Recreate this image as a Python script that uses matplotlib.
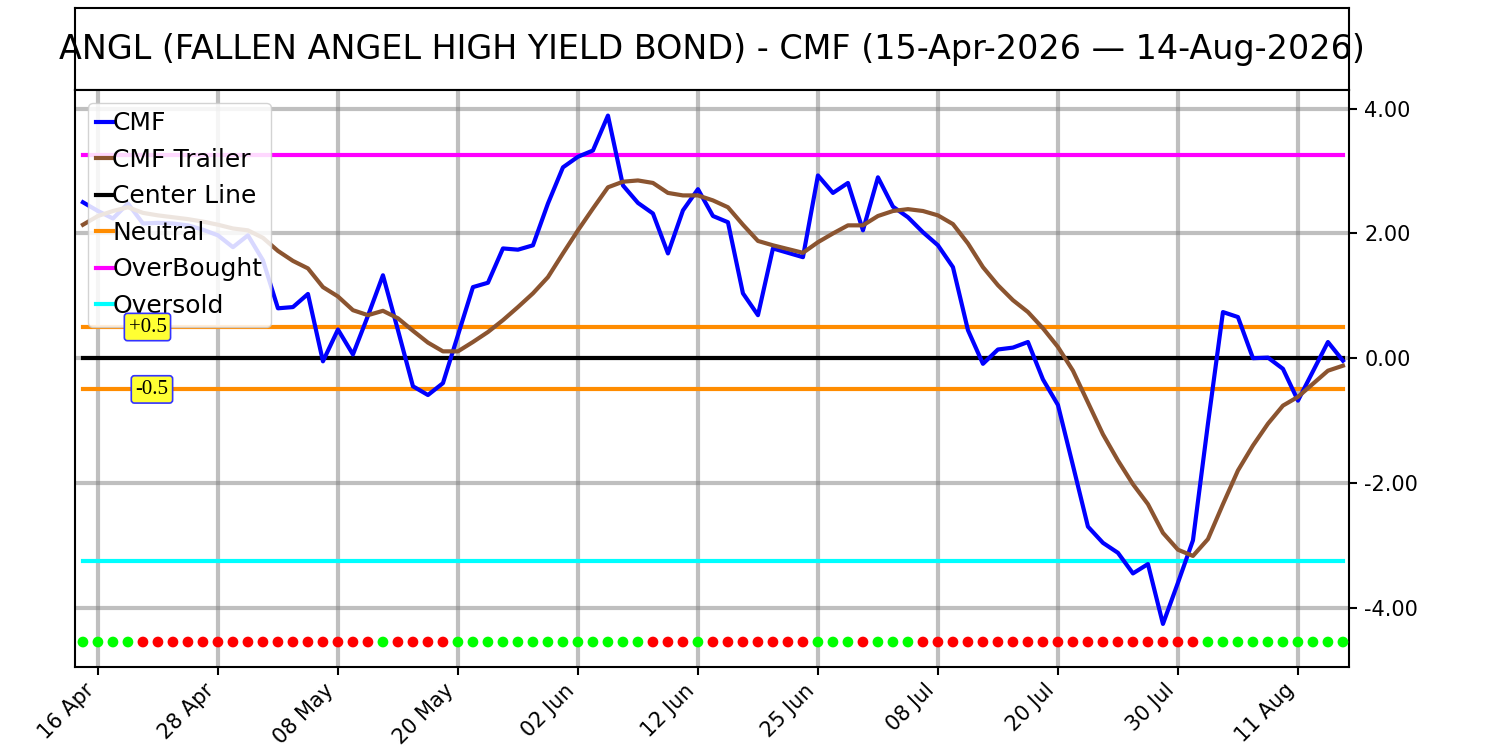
import matplotlib
matplotlib.use('Agg')
from matplotlib import pyplot as plt
import numpy as np

# CMF values per trading day, 15 Apr 2026 .. 14 Aug 2026
cmf = [2.50, 2.36, 2.24, 2.48, 2.16, 2.17, 2.16, 2.13, 2.06, 1.97,
       1.78, 1.97, 1.57, 0.80, 0.82, 1.03, -0.05, 0.46, 0.06, 0.68,
       1.33, 0.45, -0.45, -0.59, -0.40, 0.37, 1.14, 1.21, 1.76, 1.74,
       1.81, 2.48, 3.06, 3.23, 3.33, 3.89, 2.77, 2.49, 2.32, 1.68,
       2.37, 2.71, 2.28, 2.18, 1.04, 0.69, 1.76, 1.69, 1.62, 2.93,
       2.65, 2.81, 2.05, 2.90, 2.43, 2.26, 2.02, 1.81, 1.46, 0.45,
       -0.09, 0.14, 0.17, 0.26, -0.34, -0.75, -1.72, -2.70, -2.96, -3.12,
       -3.45, -3.30, -4.26, -3.60, -2.92, -1.05, 0.74, 0.66, 0.00, 0.01,
       -0.17, -0.68, -0.21, 0.26, -0.04]

trailer = [2.14, 2.28, 2.36, 2.42, 2.33, 2.29, 2.26, 2.23, 2.19, 2.14,
           2.08, 2.05, 1.93, 1.72, 1.56, 1.44, 1.14, 0.99, 0.77, 0.69,
           0.76, 0.64, 0.44, 0.25, 0.11, 0.11, 0.26, 0.42, 0.61, 0.82,
           1.04, 1.30, 1.68, 2.05, 2.40, 2.74, 2.83, 2.85, 2.81, 2.65,
           2.61, 2.61, 2.53, 2.42, 2.14, 1.88, 1.81, 1.75, 1.69, 1.86,
           2.00, 2.13, 2.13, 2.28, 2.36, 2.39, 2.36, 2.29, 2.15, 1.84,
           1.46, 1.17, 0.93, 0.74, 0.48, 0.18, -0.20, -0.71, -1.22, -1.64,
           -2.02, -2.34, -2.80, -3.07, -3.17, -2.90, -2.34, -1.80, -1.40, -1.05,
           -0.76, -0.62, -0.41, -0.20, -0.12]

# daily signal dots: G = green, R = red
signal = ("GGGGRRRRRRRRRRRRRRRRGRRRRGGGGGGGGGGGGG"
          "RRRGRRRRRRRGGGRGGGRRRRRRRRRRRRRRRRRRRGGGGGGGGGG")

tick_pos = [1, 9, 17, 25, 33, 41, 49, 57, 65, 73, 81]
tick_labels = ['16 Apr', '28 Apr', '08 May', '20 May', '02 Jun', '12 Jun',
               '25 Jun', '08 Jul', '20 Jul', '30 Jul', '11 Aug']

overbought = 3.25
oversold = -3.25
neutral = 0.5
center = 0.0
dot_level = -4.55

title = 'ANGL (FALLEN ANGEL HIGH YIELD BOND) - CMF (15-Apr-2026 \u2014 14-Aug-2026)'

x = np.arange(len(cmf))
n = len(cmf)

fig = plt.figure(figsize=(15, 7.5), dpi=100)

# title box
tax = fig.add_axes([0.05, 0.88, 0.8493, 0.1093])
tax.set_xticks([])
tax.set_yticks([])
for s in tax.spines.values():
    s.set_linewidth(1.5)
tax.text(0.5, 0.5, title, ha='center', va='center', fontsize=24,
         transform=tax.transAxes, clip_on=False)

ax = fig.add_axes([0.05, 0.1107, 0.8493, 0.7693])

ax.grid(True, color='gray', alpha=0.5, linewidth=3, zorder=0)
ax.set_axisbelow(True)

ax.plot(x, cmf, color='blue', lw=3, label='CMF', zorder=4)
ax.plot(x, trailer, color='#8b5430', lw=3, label='CMF Trailer', zorder=4)
ax.plot(x, np.full(n, center), color='black', lw=3, label='Center Line', zorder=3)
ax.plot(x, np.full(n, neutral), color='#ff8c00', lw=3, label='Neutral', zorder=3)
ax.plot(x, np.full(n, -neutral), color='#ff8c00', lw=3, zorder=3)
ax.plot(x, np.full(n, overbought), color='magenta', lw=3, label='OverBought', zorder=3)
ax.plot(x, np.full(n, oversold), color='cyan', lw=3, label='Oversold', zorder=3)

dot_colors = ['#00ff00' if c == 'G' else 'red' for c in signal]
ax.scatter(x, np.full(n, dot_level), c=dot_colors, s=60, zorder=5, edgecolors='none')

box = dict(boxstyle='round,pad=0.2,rounding_size=0.15', facecolor='#ffff33',
           edgecolor='#3333ff', linewidth=1.2)
ax.text(4.3, neutral, '+0.5', ha='center', va='center', fontsize=15,
        family='Liberation Serif', bbox=box, zorder=6)
ax.text(4.6, -neutral, '-0.5', ha='center', va='center', fontsize=15,
        family='Liberation Serif', bbox=box, zorder=6)

ax.set_xlim(-0.53, 84.4)
ax.set_ylim(-4.95, 4.3)
ax.set_xticks(tick_pos)
ax.set_xticklabels(tick_labels, rotation=45, ha='right', fontsize=15)
ax.set_yticks([-4, -2, 0, 2, 4])
ax.set_yticklabels(['%.2f' % v for v in [-4, -2, 0, 2, 4]], fontsize=15)
ax.yaxis.tick_right()
ax.tick_params(length=6, width=1.5)
ax.tick_params(axis='y', pad=5)
for s in ax.spines.values():
    s.set_linewidth(1.5)

ax.legend(loc='upper left', fontsize=18, handlelength=0.65, handletextpad=0.0,
          labelspacing=0.5, borderpad=0.35, framealpha=0.85)

fig.savefig('out.png', dpi=100)
